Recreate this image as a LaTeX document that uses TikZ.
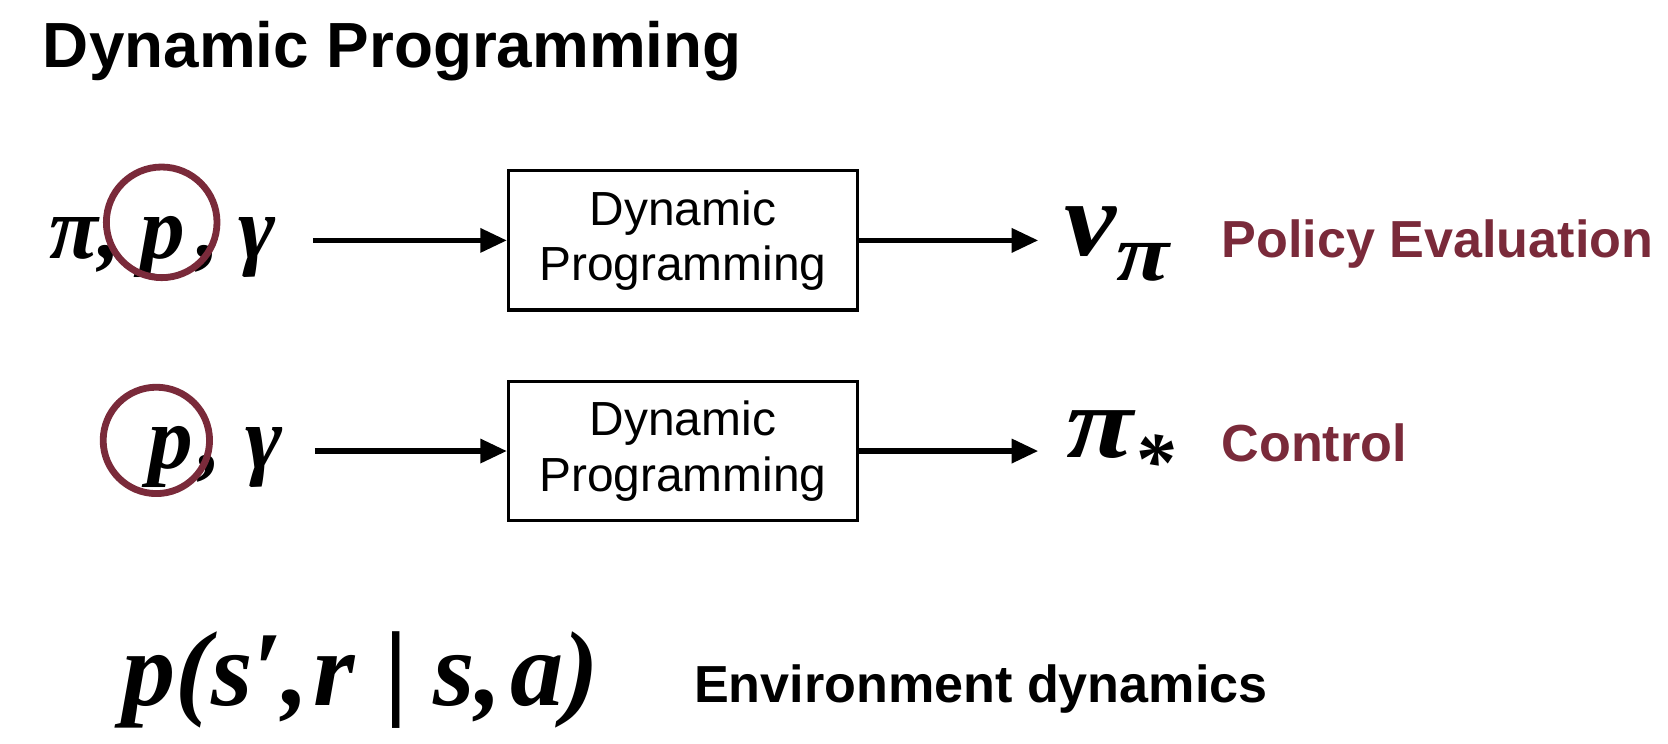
\documentclass[tikz,border=0pt]{standalone}
\usepackage{fontspec}
\setmainfont{Liberation Serif}
\setsansfont{Liberation Sans}
\usepackage{graphicx}
\usepackage{tikz}
\usetikzlibrary{arrows.meta}

\definecolor{wine}{RGB}{122,42,58}
\newcommand{\wide}[2]{\scalebox{#1}[1]{#2}}

\begin{document}
\begin{tikzpicture}[x=0.5pt,y=-0.5pt,
		flow/.style={-{Triangle[length=12.5pt,width=11pt]},line width=2.5pt},
		dp box/.style={draw,line width=1.5pt,minimum width=164pt,minimum height=65.5pt,
			align=center,font=\sffamily\fontsize{22.5}{26}\selectfont},
		sym/.style={anchor=base west,inner sep=0pt,font=\bfseries\itshape\fontsize{42}{42}\selectfont},
		label/.style={anchor=base west,inner sep=0pt,font=\sffamily\bfseries\fontsize{24.5}{24.5}\selectfont},
		ring/.style={draw=wine,line width=3.2pt,circle,inner sep=0pt}]
	
	\useasboundingbox (0,0) rectangle (1568,699);
	
	\node[anchor=base west,inner sep=0pt,font=\sffamily\bfseries\fontsize{30}{30}\selectfont] (title) at (40,63) {Dynamic Programming};
	
	% policy evaluation
	\node[dp box] (dp1) at (642,226) {Dynamic\\Programming};
	\node[sym,anchor=base east] (in1) at (260,243) {π,\hspace{9pt}p\hspace{6pt},\hspace{9pt}γ};
	\node[sym,font=\bfseries\itshape\fontsize{50}{50}\selectfont] (out1) at (1000,240) {\wide{1.1}{v}\raisebox{-0.24em}{\fontsize{38}{38}\selectfont\wide{1.2}{π}}};
	\node[label,text=wine] (pe) at (1148,242) {Policy Evaluation};
	\node[ring,minimum size=52pt] (ring1) at (152,209) {};
	
	% control
	\node[dp box] (dp2) at (642,424) {Dynamic\\Programming};
	\node[sym,anchor=base east] (in2) at (266,440) {p\hspace{3pt},\hspace{11pt}γ};
	\node[sym,font=\bfseries\itshape\fontsize{48}{48}\selectfont] (out2) at (1002,430) {\wide{1.2}{π}\raisebox{-0.3em}{\fontsize{38}{38}\selectfont *}};
	\node[label,text=wine] (ctl) at (1148,434) {Control};
	\node[ring,minimum size=50pt] (ring2) at (147,414) {};
	
	\path[flow]
	(in1.east |- dp1.west) edge[shorten <=17pt] (dp1.west)
	(dp1.east) edge[shorten >=12pt] (out1.west |- dp1.east)
	(in2.east |- dp2.west) edge[shorten <=15pt] (dp2.west)
	(dp2.east) edge[shorten >=13pt] (out2.west |- dp2.east);
	
	% environment dynamics
	\node[sym,font=\bfseries\itshape\fontsize{50}{50}\selectfont] (dyn) at (115,663) {p(s′,\hspace{2pt}r\hspace{14pt}{\upshape|}\hspace{12pt}s,\hspace{4pt}a)};
	\node[label] (env) at (652,660) {Environment dynamics};
	
\end{tikzpicture}
\end{document}
